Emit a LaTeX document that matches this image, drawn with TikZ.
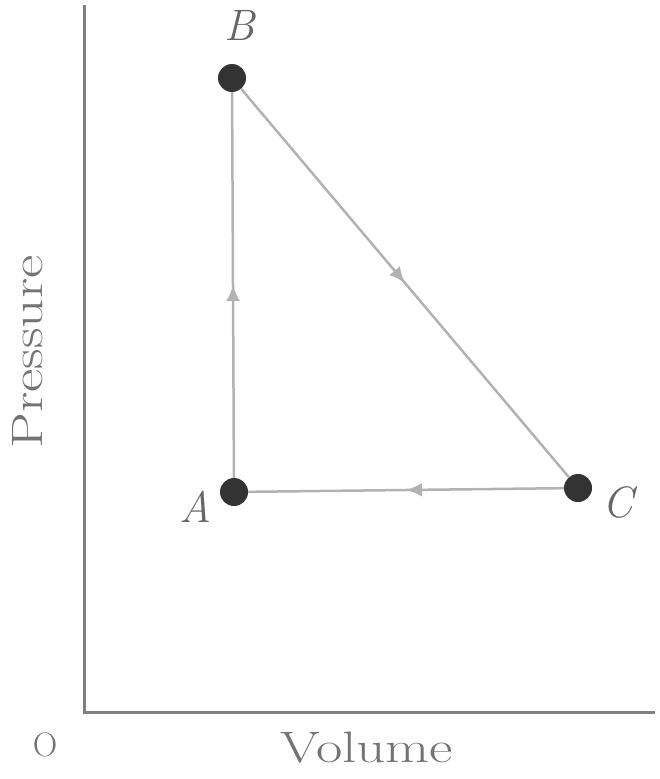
\documentclass[tikz,border=0pt]{standalone}
\usepackage{fontspec}
\usetikzlibrary{decorations.markings,arrows.meta}
\begin{document}
\begin{tikzpicture}[x=1pt,y=-1pt,
  pt/.style={circle,fill=black!80,minimum size=28pt,inner sep=0pt},
  lab/.style={text=black!60,font=\fontsize{44}{48}\selectfont\itshape},
  axlab/.style={text=black!55,font=\fontsize{44}{48}\selectfont},
  proc/.style={draw=black!30,line width=2.5pt,postaction={decorate},
    decoration={markings,mark=at position 0.5 with {\arrow{Latex[length=16pt,width=14pt]}}}},
  axis/.style={draw=black!50,line width=3pt}]
\useasboundingbox (0,0) rectangle (659,779);
\coordinate (top) at (84,5);
\coordinate (O) at (84,712);
\coordinate (right) at (655,712);
\draw[axis] (top) -- (O) -- (right);
\node[pt] (A) at (234,492) {};
\node[pt] (B) at (232,78) {};
\node[pt] (C) at (578,488) {};
\draw[proc] (A) -- (B);
\draw[proc] (B) -- (C);
\draw[proc] (C) -- (A);
\node[lab] (lB) at (240,25) {B};
\node[lab] (lA) at (195,507) {A};
\node[lab] (lC) at (618,502) {C};
\node[axlab,font=\fontsize{34}{38}\selectfont] (lO) at (45,745) {O};
\node[axlab,xscale=1.3] (lV) at (367,748) {Volume};
\node[axlab,rotate=90,xscale=1.3] (lP) at (28,352) {Pressure};
\end{tikzpicture}
\end{document}
